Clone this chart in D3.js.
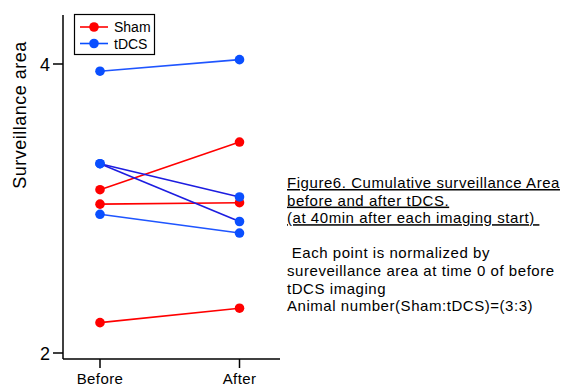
<!DOCTYPE html>
<html>
<head>
<meta charset="utf-8">
<script src="https://cdn.jsdelivr.net/npm/d3@7"></script>
<style>
  body { margin: 0; background: #fff; }
  svg { display: block; font-family: "Liberation Sans", Arial, sans-serif; }
</style>
</head>
<body>
<svg id="chart" width="566" height="385"></svg>
<script>
// conditions on the x axis
const phases = ['Before', 'After'];
const yTicks = [2, 4];

// one line per animal, [before, after]
const shamSeries = [
  [3.13, 3.46],
  [3.03, 3.04],
  [2.21, 2.31]
];
const tdcsSeries = [
  [3.95, 4.03],
  [3.31, 3.08],
  [3.31, 2.91],
  [2.96, 2.83]
];
// the two crossing tDCS lines are drawn a shade darker
const tdcsLineColors = ['#1f55ff', '#1d1de0', '#1d1de0', '#1f55ff'];

const noteLines = [
  { text: 'Figure6. Cumulative surveillance Area', u: true },
  { text: 'before and after tDCS.', u: true },
  { text: '(at 40min after each imaging start) ', u: true },
  { text: '', u: false },
  { text: ' Each point is normalized by', u: false },
  { text: 'sureveillance area at time 0 of before', u: false },
  { text: 'tDCS imaging', u: false },
  { text: 'Animal number(Sham:tDCS)=(3:3)', u: false }
];

const red = '#ff0000';
const blue = '#0a4fff';

const svg = d3.select('#chart');

const axisX = 63, axisY = 359;

const x = d3.scalePoint()
  .domain(phases)
  .range([100, 239.5]);

const y = d3.scaleLinear()
  .domain([2, 4])
  .range([353, 64]);

// y axis
svg.append('line')
  .attr('x1', axisX).attr('x2', axisX)
  .attr('y1', 15).attr('y2', axisY)
  .attr('stroke', '#000').attr('stroke-width', 1.5);

yTicks.forEach(t => {
  svg.append('line')
    .attr('x1', axisX - 10).attr('x2', axisX)
    .attr('y1', y(t)).attr('y2', y(t))
    .attr('stroke', '#000').attr('stroke-width', 1.5);
  svg.append('text')
    .attr('x', axisX - 13)
    .attr('y', y(t) + 6.5)
    .attr('text-anchor', 'end')
    .style('font-size', '18px')
    .text(t);
});

// x axis
svg.append('line')
  .attr('x1', axisX).attr('x2', 280)
  .attr('y1', axisY).attr('y2', axisY)
  .attr('stroke', '#000').attr('stroke-width', 1.5);

phases.forEach(p => {
  svg.append('line')
    .attr('x1', x(p)).attr('x2', x(p))
    .attr('y1', axisY).attr('y2', axisY + 9)
    .attr('stroke', '#000').attr('stroke-width', 1.5);
  svg.append('text')
    .attr('x', x(p))
    .attr('y', 383.5)
    .attr('text-anchor', 'middle')
    .style('font-size', '15px')
    .style('letter-spacing', '0.4px')
    .text(p);
});

// axis title
svg.append('text')
  .attr('transform', 'translate(25.5,115) rotate(-90)')
  .attr('text-anchor', 'middle')
  .style('font-size', '18px')
  .style('letter-spacing', '0.5px')
  .text('Surveillance area');

// series
function drawSeries(series, color, lineColors) {
  series.forEach((vals, i) => {
    const pts = vals.map((v, j) => [x(phases[j]), y(v)]);
    svg.append('path')
      .attr('d', d3.line()(pts))
      .attr('fill', 'none')
      .attr('stroke', lineColors ? lineColors[i] : color)
      .attr('stroke-width', 1.6);
    svg.selectAll(null)
      .data(pts)
      .enter()
      .append('circle')
      .attr('cx', d => d[0])
      .attr('cy', d => d[1])
      .attr('r', 4.8)
      .attr('fill', color);
  });
}
drawSeries(shamSeries, red);
drawSeries(tdcsSeries, blue, tdcsLineColors);

// legend
const legend = svg.append('g');
legend.append('rect')
  .attr('x', 74.5).attr('y', 14.5)
  .attr('width', 80).attr('height', 40)
  .attr('fill', '#fff')
  .attr('stroke', '#000').attr('stroke-width', 1.2);
[['Sham', red], ['tDCS', blue]].forEach((d, i) => {
  const ly = 27 + i * 16.5;
  legend.append('line')
    .attr('x1', 80).attr('x2', 108)
    .attr('y1', ly).attr('y2', ly)
    .attr('stroke', d[1]).attr('stroke-width', 1.6);
  legend.append('circle')
    .attr('cx', 94).attr('cy', ly).attr('r', 4.8)
    .attr('fill', d[1]);
  legend.append('text')
    .attr('x', 114).attr('y', ly + 5)
    .style('font-size', '14px')
    .text(d[0]);
});

// side note
const note = svg.append('text')
  .attr('x', 287)
  .style('font-size', '15px')
  .style('letter-spacing', '0.55px')
  .attr('xml:space', 'preserve');
noteLines.forEach((l, i) => {
  note.append('tspan')
    .attr('x', 287)
    .attr('y', 188 + i * 17.6)
    .attr('text-decoration', l.u ? 'underline' : null)
    .style('white-space', 'pre')
    .text(l.text);
});
</script>
</body>
</html>
